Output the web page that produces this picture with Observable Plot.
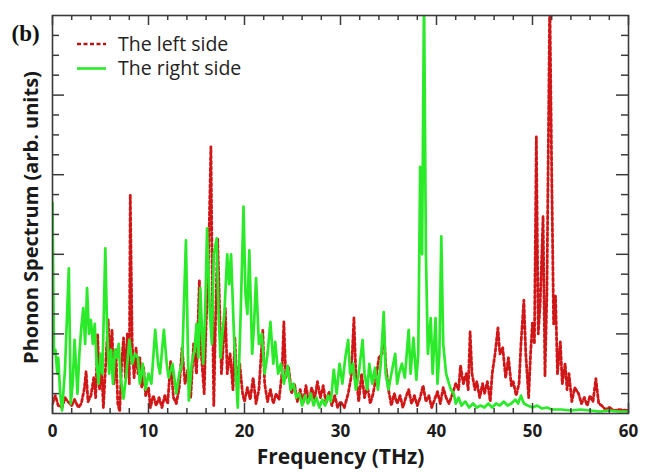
<!DOCTYPE html>
<html>
<head>
<meta charset="utf-8">
<script src="https://cdn.jsdelivr.net/npm/d3@7"></script>
<script src="https://cdn.jsdelivr.net/npm/@observablehq/plot@0.6"></script>
<style>
  html, body { margin: 0; padding: 0; background: #fff; }
  #chart { width: 648px; height: 474px; }
</style>
</head>
<body>
<div id="chart"></div>
<script>
// ---- Data ----
const seriesNames = ["The left side", "The right side"];

const leftFreq = [0.0,0.3,0.6,1.0,1.3,1.6,2.0,2.3,2.7,3.0,3.3,3.5,3.7,4.0,4.3,4.5,4.7,4.9,5.1,5.3,5.6,5.8,6.0,6.2,6.4,6.6,6.8,7.0,7.2,7.4,7.6,7.8,8.0,8.1,8.3,8.5,8.7,8.9,9.1,9.3,9.5,9.7,10.0,10.2,10.5,10.8,11.1,11.4,11.7,12.0,12.3,12.6,12.9,13.2,13.5,13.8,14.1,14.4,14.7,15.0,15.3,15.5,15.8,16.0,16.2,16.5,16.7,16.8,17.0,17.2,17.4,17.6,17.8,18.0,18.2,18.5,18.8,19.0,19.2,19.5,19.8,20.0,20.3,20.6,20.9,21.2,21.5,21.9,22.1,22.4,22.7,23.0,23.3,23.6,23.9,24.1,24.3,24.6,24.9,25.2,25.5,25.8,26.1,26.4,26.7,27.0,27.3,27.6,27.9,28.2,28.5,28.8,29.1,29.4,29.7,30.0,30.4,30.8,31.1,31.4,31.6,31.9,32.2,32.5,32.8,33.1,33.4,33.7,34.0,34.3,34.5,34.7,35.0,35.3,35.6,35.9,36.2,36.5,36.8,37.1,37.4,37.7,38.0,38.3,38.6,38.9,39.2,39.5,39.8,40.1,40.4,40.7,41.0,41.3,41.6,42.0,42.3,42.5,42.8,43.1,43.3,43.5,43.7,44.0,44.2,44.5,44.8,45.0,45.3,45.6,45.8,46.1,46.4,46.6,46.9,47.2,47.5,47.8,48.0,48.3,48.6,48.8,49.1,49.3,49.6,49.8,50.0,50.2,50.4,50.6,50.8,51.1,51.3,51.5,51.8,52.0,52.2,52.4,52.6,52.9,53.1,53.4,53.6,53.8,54.1,54.4,54.8,55.1,55.4,55.7,56.0,56.3,56.6,56.9,57.2,57.6,58.0,58.5,59.0,60.0];
const leftAmp  = [0.5,0.9,0.4,0.3,0.8,0.6,0.4,0.7,0.3,0.5,1.2,2.1,0.6,0.9,1.8,0.8,4.0,1.2,2.5,0.3,3.0,4.7,2.5,4.2,1.5,3.2,0.5,0.1,2.5,3.8,1.8,4.0,1.5,11.0,3.5,1.8,3.3,2.0,2.8,1.3,2.3,0.9,1.3,0.3,0.9,0.4,0.8,0.3,0.9,0.5,2.6,0.8,0.5,1.3,3.3,1.5,2.2,0.8,3.5,2.0,6.7,3.0,1.0,4.5,6.5,13.4,4.0,0.4,5.0,8.8,5.5,2.0,3.5,5.3,2.0,3.0,1.2,3.8,1.5,2.5,1.0,0.6,1.3,0.7,1.8,0.5,1.2,4.2,1.5,0.6,1.2,0.5,1.0,0.7,2.0,4.6,1.8,2.3,1.0,1.5,0.6,1.2,0.5,1.4,0.6,1.3,0.7,1.6,0.8,1.4,0.5,1.1,0.4,0.9,0.3,0.6,0.3,1.0,1.8,4.8,2.0,0.6,2.0,0.8,1.4,0.5,1.0,1.8,2.8,3.0,4.4,2.5,1.2,0.4,1.0,0.5,0.9,0.3,0.8,1.2,0.5,0.9,0.4,0.8,1.4,0.6,0.9,0.3,0.7,1.1,0.5,1.3,0.8,0.5,0.9,1.5,1.2,2.4,1.5,2.0,1.2,4.1,2.0,1.2,1.6,0.8,1.5,1.0,1.6,0.6,2.0,3.0,4.3,3.0,3.3,1.8,2.8,1.4,1.6,0.9,1.5,3.5,5.7,3.0,0.8,3.0,4.6,3.5,13.9,4.0,5.5,9.9,1.9,6.0,21,12.1,4.5,5.9,2.0,3.6,1.5,2.5,1.2,2.0,0.6,1.3,1.0,0.5,0.8,0.4,0.9,0.6,1.75,0.5,0.4,0.2,0.3,0.15,0.2,0.15];

const rightFreq = [0.0,0.15,0.3,0.5,0.6,0.8,1.0,1.3,1.7,1.9,2.1,2.3,2.6,2.8,3.0,3.2,3.4,3.6,3.8,4.0,4.2,4.4,4.6,4.8,5.0,5.2,5.5,5.7,5.9,6.1,6.3,6.5,6.7,6.9,7.1,7.4,7.7,8.0,8.3,8.6,8.9,9.1,9.4,9.7,10.0,10.3,10.7,11.0,11.2,11.6,11.9,12.1,12.5,12.9,13.2,13.5,13.9,14.2,14.5,14.8,15.0,15.2,15.4,15.7,15.9,16.1,16.4,16.6,16.8,17.1,17.3,17.5,17.7,17.9,18.2,18.4,18.6,18.9,19.1,19.3,19.6,19.9,20.1,20.3,20.5,20.8,21.0,21.2,21.5,21.8,22.1,22.4,22.7,23.0,23.2,23.5,23.8,24.1,24.5,24.8,25.1,25.4,25.7,26.0,26.3,26.6,26.9,27.2,27.5,27.8,28.1,28.4,28.7,29.0,29.3,29.6,29.9,30.2,30.5,30.8,31.0,31.3,31.6,31.9,32.3,32.5,32.8,33.0,33.3,33.6,33.9,34.2,34.5,34.7,35.0,35.3,35.7,35.9,36.1,36.4,36.7,36.9,37.1,37.3,37.6,37.9,38.1,38.3,38.5,38.7,38.9,39.1,39.4,39.6,39.9,40.1,40.3,40.5,40.7,41.0,41.3,41.5,41.8,42.0,42.3,42.6,43.0,43.4,43.8,44.2,44.6,45.0,45.4,45.8,46.2,46.6,47.0,47.4,47.8,48.2,48.5,48.8,49.1,49.5,50.0,50.5,51.0,51.5,52.0,53.0,54.0,55.0,56.0,57.0,58.0,59.0,60.0];
const rightAmp  = [10.6,3.0,3.2,2.0,2.8,1.0,0.15,2.2,7.3,0.5,1.5,3.7,1.0,3.0,4.3,5.3,3.5,6.3,4.0,4.7,3.5,4.5,2.5,1.5,3.0,2.0,8.3,4.0,2.0,3.2,1.5,3.2,2.8,3.5,1.8,0.75,2.0,3.7,2.5,3.0,2.8,1.5,2.5,1.2,2.0,1.5,4.2,2.5,2.0,4.2,2.5,1.8,2.5,1.0,2.0,2.5,8.7,0.65,2.5,3.2,4.5,2.8,6.3,2.5,5.0,9.3,5.0,3.5,8.0,8.8,5.0,2.8,4.0,5.0,8.0,6.5,8.0,4.0,2.0,0.3,5.0,10.4,6.0,5.0,8.2,3.0,4.5,6.8,3.5,4.0,2.0,3.0,4.6,2.5,3.6,2.0,2.5,1.5,2.4,1.2,1.5,0.8,1.0,0.4,0.9,0.5,1.0,0.4,0.8,0.3,0.7,0.4,0.9,0.6,2.2,1.0,2.5,1.5,2.8,3.7,2.0,2.5,1.2,2.0,3.7,2.0,1.2,2.5,1.5,2.3,1.2,2.5,5.1,2.0,1.2,2.0,3.0,1.5,2.0,2.5,1.8,3.0,4.2,2.0,3.8,1.7,3.0,12.4,8.0,21,8.0,3.0,4.8,2.0,4.8,1.5,3.0,8.9,3.5,2.0,1.5,1.2,1.0,0.5,0.8,0.4,0.6,0.3,0.5,0.3,0.4,0.3,0.5,0.3,0.5,0.4,0.6,0.4,0.5,0.7,0.5,0.9,0.5,0.4,0.3,0.4,0.25,0.3,0.2,0.2,0.15,0.2,0.15,0.1,0.15,0.1,0.1];

const xTickLabels = [0, 10, 20, 30, 40, 50, 60];
const yMajorTicks = [4, 8, 12, 16];

// ---- Build tables ----
const left = leftFreq.map((f, i) => ({f, v: leftAmp[i]}));
const right = rightFreq.map((f, i) => ({f, v: rightAmp[i]}));
const xMinor = d3.range(2, 60, 2).filter(d => d % 10 !== 0);
const yMinor = d3.range(1, 20, 1).filter(d => !yMajorTicks.includes(d));

const RED = "#d01616";
const GREEN = "#2aea2a";
const AX = "#3a3a3a";
const FONT = "'Open Sans', 'DejaVu Sans', sans-serif";

const W = 648, H = 474, ML = 52, MR = 20, MT = 15, MB = 61;
const FW = W - ML - MR, FH = H - MT - MB;

function legend() {
  return (index, scales, values, dims) => {
    const g = d3.create("svg:g");
    const items = [
      {name: seriesNames[0], stroke: "#b01818", dash: "4,2.5"},
      {name: seriesNames[1], stroke: GREEN, dash: null}
    ];
    items.forEach((it, i) => {
      const y = dims.marginTop + 29 + i * 24.5;
      const x0 = dims.marginLeft + 25;
      g.append("line")
        .attr("x1", x0).attr("x2", x0 + 29)
        .attr("y1", y).attr("y2", y)
        .attr("stroke", it.stroke).attr("stroke-width", 2.6)
        .attr("stroke-dasharray", it.dash);
      g.append("text")
        .attr("x", x0 + 41).attr("y", y)
        .attr("dy", "0.35em")
        .attr("text-anchor", "start")
        .attr("font-family", FONT)
        .attr("font-size", 19.5)
        .attr("fill", "#222")
        .text(it.name);
    });
    return g.node();
  };
}

const chart = Plot.plot({
  width: W, height: H,
  marginLeft: ML, marginRight: MR, marginTop: MT, marginBottom: MB,
  style: {background: "#fff", overflow: "visible"},
  x: {domain: [0, 60], axis: null},
  y: {domain: [0, 20], axis: null},
  marks: [
    Plot.line(left, {x: "f", y: "v", stroke: RED, strokeWidth: 2.8, strokeDasharray: "3,2.5", clip: true}),
    Plot.line(right, {x: "f", y: "v", stroke: GREEN, strokeWidth: 2.7, clip: true}),
    Plot.frame({stroke: AX, strokeWidth: 1.6}),
    // x ticks (inward) bottom and top
    Plot.tickX(xMinor, {x: d => d, insetTop: FH - 5, stroke: AX, strokeWidth: 1.5}),
    Plot.tickX(xTickLabels, {x: d => d, insetTop: FH - 10, stroke: AX, strokeWidth: 1.5}),
    Plot.tickX(xMinor, {x: d => d, insetBottom: FH - 5, stroke: AX, strokeWidth: 1.5}),
    Plot.tickX(xTickLabels, {x: d => d, insetBottom: FH - 10, stroke: AX, strokeWidth: 1.5}),
    // y ticks (inward) left and right
    Plot.tickY(yMinor, {y: d => d, insetRight: FW - 7, stroke: AX, strokeWidth: 1.5}),
    Plot.tickY(yMajorTicks, {y: d => d, insetRight: FW - 12, stroke: AX, strokeWidth: 1.5}),
    Plot.tickY(yMinor, {y: d => d, insetLeft: FW - 7, stroke: AX, strokeWidth: 1.5}),
    Plot.tickY(yMajorTicks, {y: d => d, insetLeft: FW - 12, stroke: AX, strokeWidth: 1.5}),
    // tick labels
    Plot.text(xTickLabels, {x: d => d, frameAnchor: "bottom", dy: 23, text: d => String(d),
      textAnchor: "middle", fontSize: 17, fontWeight: "bold", fontFamily: FONT, fill: "#1a1a1a"}),
    // axis titles
    Plot.text(["Frequency (THz)"], {frameAnchor: "bottom", dy: 50, text: d => d, textAnchor: "middle",
      fontSize: 21, fontWeight: "bold", fontFamily: FONT, fill: "#1a1a1a"}),
    Plot.text(["Phonon Spectrum (arb. units)"], {frameAnchor: "left", dx: -21, dy: 3, rotate: -90, text: d => d,
      textAnchor: "middle", fontSize: 20, fontWeight: "bold", fontFamily: FONT, fill: "#1a1a1a"}),
    Plot.text(["(b)"], {frameAnchor: "top-left", dx: -41, dy: 9, textAnchor: "start", text: d => d,
      fontSize: 23, fontWeight: "bold", fontFamily: "'Liberation Serif', serif", fill: "#111"}),
    legend()
  ]
});

document.getElementById("chart").appendChild(chart);
</script>
</body>
</html>
